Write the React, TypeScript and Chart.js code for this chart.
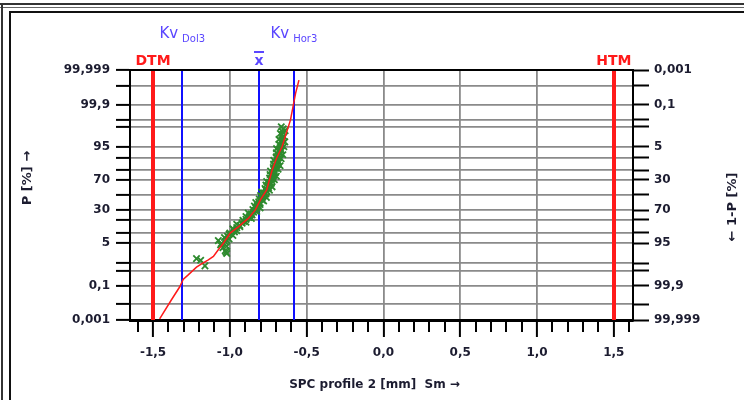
import React, { useEffect, useRef } from "react";
import { Chart, registerables } from "chart.js";

Chart.register(...registerables);

// Probability axis (percent): every tick, and the ones that carry a label
const probTicks = [0.001, 0.01, 0.1, 0.5, 1, 5, 10, 20, 30, 50, 70, 80, 90, 95, 99, 99.5, 99.9, 99.99, 99.999];
const probLabels = [0.001, 0.1, 5, 30, 70, 95, 99.9, 99.999];

// Measurement axis
const xMin = -1.65;
const xMax = 1.625;
const xMajorTicks = [-1.5, -1.0, -0.5, 0.0, 0.5, 1.0, 1.5];
const xMinorStep = 0.1;

// Tolerance limits
const tolNames = ["DTM", "HTM"];
const tolValues = [-1.5, 1.5];

// Statistics markers
const kvDol3 = -1.31;
const meanValue = -0.81;
const kvHor3 = -0.583;

// Measured values (mm) and their cumulative probability (%)
const sampleX = [
  -1.162, -1.19, -1.217, -1.02, -1.025, -1.075, -1.02, -1.055, -1.02, -1.035, -0.98, -1.0,
  -0.955, -0.98, -0.935, -0.955, -0.895, -0.915, -0.86, -0.895, -0.855, -0.88, -0.825, -0.85,
  -0.803, -0.84, -0.803, -0.831, -0.78, -0.808, -0.762, -0.8, -0.765, -0.793, -0.742, -0.771,
  -0.725, -0.765, -0.73, -0.76, -0.71, -0.741, -0.697, -0.738, -0.704, -0.735, -0.686, -0.717,
  -0.673, -0.715, -0.682, -0.714, -0.666, -0.698, -0.655, -0.697, -0.664, -0.696, -0.648, -0.68,
  -0.642, -0.68, -0.648, -0.671, -0.64, -0.665,
  -1.03, -1.045, -1.06, -1.03, -1.005, -1.015, -1.005, -0.97, -0.975, -0.955, -0.935, -0.92,
  -0.91, -0.895, -0.875, -0.87, -0.862, -0.845, -0.838, -0.825, -0.822, -0.82, -0.81, -0.812,
  -0.79, -0.79, -0.785, -0.778, -0.78, -0.76, -0.765, -0.748, -0.75, -0.74, -0.745, -0.728,
  -0.725, -0.72, -0.716, -0.718, -0.708, -0.712, -0.7, -0.7, -0.692, -0.7, -0.686, -0.69,
  -0.68, -0.685, -0.672, -0.68, -0.668, -0.672, -0.664, -0.662, -0.66, -0.655, -0.66, -0.655,
  -0.652,
];
const sampleP = [
  0.78, 1.3, 1.5, 2.3, 2.56, 6.0, 4.01, 4.95, 6.06, 7.35, 8.38, 9.68,
  11.1, 12.5, 14.0, 15.9, 17.6, 19.5, 21.2, 23.0, 24.8, 26.8, 28.8, 30.9,
  33.0, 35.2, 37.4, 39.7, 42.1, 44.4, 46.8, 49.2, 51.6, 54.0, 56.4, 58.7,
  61.0, 63.3, 65.5, 67.7, 69.8, 71.9, 73.9, 75.8, 77.6, 79.4, 81.1, 82.6,
  84.1, 85.5, 86.9, 88.1, 89.25, 90.3, 91.5, 92.5, 93.45, 94.3, 95.05, 95.8,
  96.5, 97.1, 97.7, 98.2, 98.6, 99.0,
  2.87, 3.59, 4.46, 5.48, 6.68, 7.93, 9.01, 10.4, 11.9, 13.3, 14.9, 16.9,
  18.4, 20.3, 22.1, 23.9, 25.8, 27.8, 29.8, 31.9, 34.1, 36.3, 38.6, 40.9,
  43.2, 45.6, 48.0, 50.4, 52.8, 55.2, 57.5, 59.9, 62.2, 64.4, 66.6, 68.8,
  70.9, 72.9, 74.9, 76.7, 78.5, 80.2, 81.9, 83.4, 84.8, 86.2, 87.5, 88.7,
  89.8, 91.0, 92.1, 93.1, 93.9, 94.7, 95.4, 96.2, 96.9, 97.4, 98.0, 98.4,
  98.8,
];

// Fitted distribution
const fitX = [
  -1.457, -1.381, -1.326, -1.304, -1.271, -1.217, -1.184, -1.14, -1.107, -1.075, -1.042, -0.998,
  -0.943, -0.878, -0.834, -0.8, -0.76, -0.725, -0.695, -0.66, -0.605, -0.572, -0.55,
];
const fitP = [
  0.0012, 0.017, 0.087, 0.2, 0.32, 0.69, 0.94, 1.35, 1.8, 3.1, 5.0, 9.7,
  14, 21.5, 30.5, 43.6, 56.8, 80, 89.7, 95, 99.48, 99.974, 99.9956,
];

const TEXT = "#1c1c30";
const GRID = "#8a8a8a";
const RED = "#ff1a1a";
const BLUE = "#1010ff";
const VIOLET = "#5a46ff";
const GREEN = "#2e8a2e";
const FONT_FAMILY = "'DejaVu Sans', Verdana, sans-serif";

// Inverse of the standard normal CDF (Acklam)
function probit(p: number): number {
  const a = [-39.69683028665376, 220.9460984245205, -275.9285104469687, 138.357751867269, -30.66479806614716, 2.506628277459239];
  const b = [-54.47609879822406, 161.5858368580409, -155.6989798598866, 66.80131188771972, -13.28068155288572];
  const c = [-0.007784894002430293, -0.3223964580411365, -2.400758277161838, -2.549732539343734, 4.374664141464968, 2.938163982698783];
  const d = [0.007784695709041462, 0.3224671290700398, 2.445134137142996, 3.754408661907416];
  const lo = 0.02425;
  if (p < lo) {
    const q = Math.sqrt(-2 * Math.log(p));
    return (((((c[0] * q + c[1]) * q + c[2]) * q + c[3]) * q + c[4]) * q + c[5]) /
      ((((d[0] * q + d[1]) * q + d[2]) * q + d[3]) * q + 1);
  }
  if (p > 1 - lo) {
    const q = Math.sqrt(-2 * Math.log(1 - p));
    return -(((((c[0] * q + c[1]) * q + c[2]) * q + c[3]) * q + c[4]) * q + c[5]) /
      ((((d[0] * q + d[1]) * q + d[2]) * q + d[3]) * q + 1);
  }
  const q = p - 0.5;
  const r = q * q;
  return (((((a[0] * r + a[1]) * r + a[2]) * r + a[3]) * r + a[4]) * r + a[5]) * q /
    (((((b[0] * r + b[1]) * r + b[2]) * r + b[3]) * r + b[4]) * r + 1);
}

const zMin = probit(probTicks[0] / 100);
const zMax = probit(probTicks[probTicks.length - 1] / 100);

const fmtNum = (v: number) => String(+v.toPrecision(6)).replace(".", ",");
const fmtX = (v: number) => v.toFixed(1).replace(".", ",");

const tickFont = { family: FONT_FAMILY, size: 12, weight: "bold" as const };

const decorations = {
  id: "decorations",
  beforeDatasetsDraw(chart: any) {
    const { ctx, chartArea: a, scales } = chart;
    const x = scales.x;
    ctx.save();
    ctx.lineCap = "butt";
    // tolerance limits
    ctx.strokeStyle = RED;
    ctx.lineWidth = 4;
    tolValues.forEach((v) => {
      const px = Math.round(x.getPixelForValue(v));
      ctx.beginPath();
      ctx.moveTo(px, a.top);
      ctx.lineTo(px, a.bottom);
      ctx.stroke();
    });
    // Kv limits and mean
    ctx.strokeStyle = BLUE;
    ctx.lineWidth = 2;
    [kvDol3, meanValue, kvHor3].forEach((v) => {
      const px = Math.round(x.getPixelForValue(v));
      ctx.beginPath();
      ctx.moveTo(px, a.top);
      ctx.lineTo(px, a.bottom);
      ctx.stroke();
    });
    ctx.restore();
  },
  afterDraw(chart: any) {
    const { ctx, chartArea: a, scales } = chart;
    const x = scales.x;
    ctx.save();

    // top edge of the plot frame
    ctx.strokeStyle = "#000";
    ctx.lineWidth = 2;
    ctx.beginPath();
    ctx.moveTo(a.left - 1, a.top);
    ctx.lineTo(a.right + 1, a.top);
    ctx.stroke();

    // minor ticks on the measurement axis
    ctx.lineWidth = 2;
    const first = Math.ceil(xMin / xMinorStep);
    const last = Math.floor(xMax / xMinorStep);
    for (let k = first; k <= last; k++) {
      if (k % 5 === 0) continue;
      const px = Math.round(x.getPixelForValue(k * xMinorStep));
      ctx.beginPath();
      ctx.moveTo(px, a.bottom);
      ctx.lineTo(px, a.bottom + 12);
      ctx.stroke();
    }

    // limit names above the plot
    ctx.textAlign = "center";
    ctx.textBaseline = "alphabetic";
    ctx.font = `bold 14px ${FONT_FAMILY}`;
    ctx.fillStyle = RED;
    tolValues.forEach((v, i) => {
      ctx.fillText(tolNames[i], x.getPixelForValue(v), a.top - 5);
    });

    // mean: x with overline
    const mx = x.getPixelForValue(meanValue);
    ctx.fillStyle = VIOLET;
    ctx.font = `bold 14px ${FONT_FAMILY}`;
    ctx.fillText("x", mx, a.top - 5);
    ctx.fillRect(mx - 5, a.top - 19, 10, 2);

    // Kv labels with subscripts
    const kvLabel = (v: number, sub: string) => {
      ctx.font = `15px ${FONT_FAMILY}`;
      const w1 = ctx.measureText("Kv").width;
      ctx.font = `10px ${FONT_FAMILY}`;
      const w2 = ctx.measureText(sub).width;
      const gap = 4;
      const cx = x.getPixelForValue(v);
      const left = cx - (w1 + gap + w2) / 2;
      ctx.textAlign = "left";
      ctx.font = `15px ${FONT_FAMILY}`;
      ctx.fillText("Kv", left, a.top - 32);
      ctx.font = `10px ${FONT_FAMILY}`;
      ctx.fillText(sub, left + w1 + gap, a.top - 28);
    };
    ctx.fillStyle = VIOLET;
    kvLabel(kvDol3, "Dol3");
    kvLabel(kvHor3, "Hor3");

    // axis titles
    ctx.fillStyle = TEXT;
    ctx.font = `bold 12px ${FONT_FAMILY}`;
    ctx.textAlign = "center";
    ctx.textBaseline = "middle";
    ctx.fillText("SPC profile 2 [mm]  Sm \u2192", (a.left + a.right) / 2 - 7, a.bottom + 65);

    ctx.font = `bold 13px ${FONT_FAMILY}`;
    ctx.save();
    ctx.translate(28, (a.top + a.bottom) / 2 - 17);
    ctx.rotate(-Math.PI / 2);
    ctx.fillText("P [%] \u2192", 0, 0);
    ctx.restore();

    ctx.save();
    ctx.translate(733, (a.top + a.bottom) / 2 + 12);
    ctx.rotate(-Math.PI / 2);
    ctx.fillText("\u2190 1-P [%]", 0, 0);
    ctx.restore();

    ctx.restore();
  },
};

export default function App() {
  const ref = useRef<HTMLCanvasElement>(null);

  useEffect(() => {
    const canvas = ref.current;
    if (!canvas) return;

    const samples = sampleX.map((v, i) => ({ x: v, y: probit(sampleP[i] / 100) }));
    const fit = fitX.map((v, i) => ({ x: v, y: probit(fitP[i] / 100) }));
    const probTickObjs = () => probTicks.map((p) => ({ value: probit(p / 100) }));

    const chart = new Chart(canvas, {
      type: "scatter",
      data: {
        datasets: [
          {
            label: "Verteilung",
            data: fit,
            showLine: true,
            borderColor: RED,
            borderWidth: 1.5,
            pointRadius: 0,
            order: 0,
          },
          {
            label: "Messwerte",
            data: samples,
            showLine: false,
            pointStyle: "crossRot",
            pointRadius: 4.5,
            borderColor: GREEN,
            backgroundColor: GREEN,
            pointBorderWidth: 1.8,
            order: 1,
          },
        ],
      },
      options: {
        responsive: false,
        animation: false,
        devicePixelRatio: 1,
        events: [],
        layout: { padding: { top: 70, left: 0, right: 0, bottom: 0 } },
        plugins: { legend: { display: false }, tooltip: { enabled: false } },
        scales: {
          x: {
            type: "linear",
            position: "bottom",
            min: xMin,
            max: xMax,
            afterBuildTicks: (s: any) => {
              s.ticks = xMajorTicks.map((v) => ({ value: v }));
            },
            afterFit: (s: any) => {
              s.height = 80;
            },
            grid: { color: GRID, lineWidth: 1.8, tickColor: "#000", tickWidth: 2, tickLength: 17 },
            border: { color: "#000", width: 3 },
            ticks: {
              font: tickFont,
              color: TEXT,
              padding: 9,
              maxRotation: 0,
              autoSkip: false,
              callback: (v: any) => fmtX(Number(v)),
            },
          },
          y: {
            type: "linear",
            position: "left",
            min: zMin,
            max: zMax,
            afterBuildTicks: (s: any) => {
              s.ticks = probTickObjs();
            },
            afterFit: (s: any) => {
              s.width = 130;
            },
            grid: { color: GRID, lineWidth: 1.8, tickColor: "#000", tickWidth: 2, tickLength: 14 },
            border: { color: "#000", width: 2 },
            ticks: {
              font: tickFont,
              color: TEXT,
              padding: 6,
              autoSkip: false,
              callback: (_v: any, i: number) => {
                const p = probTicks[i];
                return probLabels.includes(p) ? fmtNum(p) : "";
              },
            },
          },
          y2: {
            type: "linear",
            position: "right",
            min: zMin,
            max: zMax,
            afterBuildTicks: (s: any) => {
              s.ticks = probTickObjs();
            },
            afterFit: (s: any) => {
              s.width = 111;
            },
            grid: { drawOnChartArea: false, tickColor: "#000", tickWidth: 2, tickLength: 16 },
            border: { color: "#000", width: 2 },
            ticks: {
              font: tickFont,
              color: TEXT,
              padding: 5,
              autoSkip: false,
              callback: (_v: any, i: number) => {
                const p = probTicks[i];
                return probLabels.includes(p) ? fmtNum(100 - p) : "";
              },
            },
          },
        },
      },
      plugins: [decorations],
    });

    return () => chart.destroy();
  }, []);

  return (
    <div style={{ position: "fixed", left: 0, top: 0, width: 744, height: 400, background: "#fff", overflow: "hidden" }}>
      <div style={{ position: "absolute", left: 0, right: 0, top: 3, borderTop: "2px solid #333" }} />
      <div style={{ position: "absolute", left: 0, right: 0, top: 7, borderTop: "1px solid #666" }} />
      <div style={{ position: "absolute", left: 1, top: 3, bottom: 0, borderLeft: "2px solid #333" }} />
      <div style={{ position: "absolute", left: 9, top: 11, right: -20, bottom: -20, border: "2px solid #111" }} />
      <canvas ref={ref} width={744} height={400} style={{ position: "absolute", left: 0, top: 0, width: 744, height: 400 }} />
    </div>
  );
}
